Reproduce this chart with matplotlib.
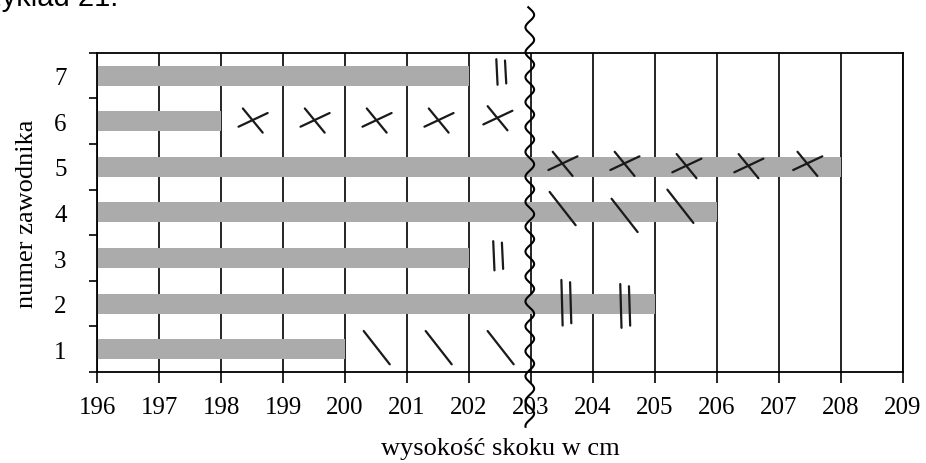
import numpy as np
import matplotlib
matplotlib.use("Agg")
import matplotlib.pyplot as plt

# bar data: competitor number -> best jump height (cm)
zawodnicy = [1, 2, 3, 4, 5, 6, 7]
wysokosc = [200, 205, 202, 206, 208, 198, 202]
x_ticks = list(range(196, 210))

# handwritten marks drawn on the scan (x in cm, y = competitor)
krzyzyki = [(198.5, 6.0), (199.5, 6.0), (200.5, 6.0), (201.5, 6.0), (202.45, 6.05),
            (203.5, 5.05), (204.5, 5.05), (205.5, 5.0), (206.5, 5.0), (207.45, 5.05)]
kreski = [(200.5, 1.05), (201.5, 1.05), (202.5, 1.05),
          (203.5, 4.1), (204.5, 3.95), (205.4, 4.15)]
podwojne = [(202.5, 7.08, 0.28), (202.45, 3.05, 0.32), (203.55, 2.02, 0.5), (204.5, 1.95, 0.48)]

plt.rcParams['font.family'] = ['Liberation Serif', 'DejaVu Serif']

fig = plt.figure(figsize=(9.26, 4.64), dpi=100)
ax = fig.add_axes([0.105, 0.196, 0.87, 0.688])

ax.barh(zawodnicy, [w - 196 for w in wysokosc], left=196, height=0.44,
        color='#ababab', zorder=2)

ax.set_xlim(196, 209)
ax.set_ylim(0.5, 7.5)
ax.set_xticks(x_ticks)
ax.set_xticklabels([str(t) for t in x_ticks], fontsize=18)
ax.set_yticks(zawodnicy)
ax.set_yticklabels([str(z) for z in zawodnicy], fontsize=18)
ax.set_yticks([z + 0.5 for z in range(0, 8)], minor=True)
ax.tick_params(axis='y', which='major', length=0, pad=22)
ax.tick_params(axis='y', which='minor', length=6, width=1.2, direction='out')
ax.tick_params(axis='x', length=8, width=1.2, direction='out', pad=9)
ax.grid(axis='x', color='black', linewidth=1.2, zorder=1)
ax.set_axisbelow(True)
for s in ax.spines.values():
    s.set_color('black')
    s.set_linewidth(1.3)

ax.set_xlabel('wysokość skoku w cm', fontsize=19, labelpad=14)
ax.set_ylabel('numer zawodnika', fontsize=19, labelpad=12)

ink = dict(color='#1a1a1a', linewidth=1.6, solid_capstyle='round', zorder=5)
for x, y in krzyzyki:
    ax.plot([x - 0.15, x + 0.17], [y + 0.28, y - 0.25], **ink)
    ax.plot([x - 0.22, x + 0.25], [y - 0.12, y + 0.18], **ink)
for x, y in kreski:
    ax.plot([x - 0.2, x + 0.22], [y + 0.35, y - 0.38], **ink)
for x, y, h in podwojne:
    ax.plot([x - 0.06, x - 0.04], [y + h, y - h], **ink)
    ax.plot([x + 0.08, x + 0.1], [y + h * 0.9, y - h * 0.9], **ink)

# wavy cut line at 203
yy = np.linspace(-0.7, 8.5, 600)
xx = 202.98 + 0.07 * np.sin(yy * 11.5)
ax.plot(xx, yy, color='black', linewidth=1.5, clip_on=False, zorder=6)

fig.text(-0.045, 1.005, 'Przykład 21.', fontsize=21, family=['Liberation Sans', 'DejaVu Sans'],
         va='center', ha='left')

fig.savefig('out.png', dpi=100)
